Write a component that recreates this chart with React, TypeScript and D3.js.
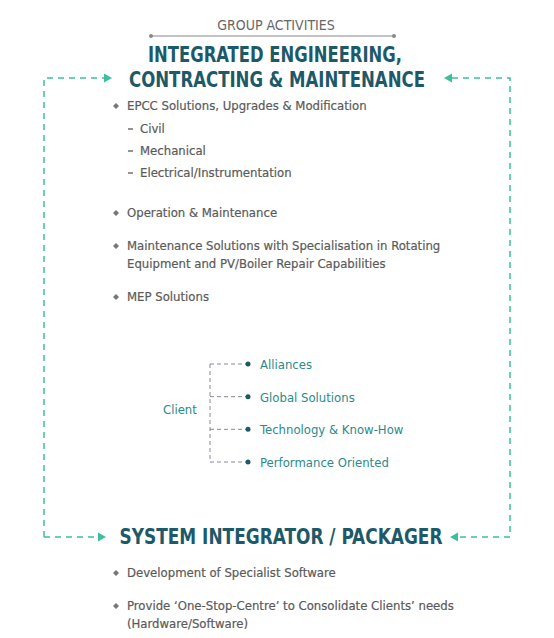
import React from 'react';
import * as d3 from 'd3';

const topTitle = ['INTEGRATED ENGINEERING,', 'CONTRACTING & MAINTENANCE'];
const bottomTitle = 'SYSTEM INTEGRATOR / PACKAGER';
const topBullets: { lines: string[]; y: number }[] = [
    { lines: ['EPCC Solutions, Upgrades & Modification'], y: 110 },
    { lines: ['Operation & Maintenance'], y: 217 },
    { lines: ['Maintenance Solutions with Specialisation in Rotating', 'Equipment and PV/Boiler Repair Capabilities'], y: 250 },
    { lines: ['MEP Solutions'], y: 301 },
];
const subItems = ['Civil', 'Mechanical', 'Electrical/Instrumentation'];
const clientBranches = ['Alliances', 'Global Solutions', 'Technology & Know-How', 'Performance Oriented'];
const bottomBullets: { lines: string[]; y: number }[] = [
    { lines: ['Development of Specialist Software'], y: 577 },
    { lines: ['Provide \u2018One-Stop-Centre\u2019 to Consolidate Clients\u2019 needs', '(Hardware/Software)'], y: 610 },
];

const FONT = '"Liberation Sans Narrow", "DejaVu Sans Condensed", "Roboto", sans-serif';
const GRAY = '#5a5a5a';
const DARK = '#1d5968';
const TEAL = '#2b8a8c';
const GREEN = '#3cbf9f';

const App: React.FC = () => {
    const subY = d3.scalePoint<string>().domain(subItems).range([133, 177]);
    const branchY = d3.scalePoint<string>().domain(clientBranches).range([364, 462]);

    const bullet = (b: { lines: string[]; y: number }, i: number) => (
        <g key={i}>
            <path d={`M116,${b.y - 7} l3,3 l-3,3 l-3,-3 z`} fill="#777" />
            {b.lines.map((l, j) => (
                <text key={j} x={127} y={b.y + j * 18} fontSize={13} fill={GRAY} stroke={GRAY} strokeWidth={0.2}>{l}</text>
            ))}
        </g>
    );

    const arrow = (x: number, y: number, dir: number) => (
        <path d={`M${x},${y} l${-8 * dir},-4.5 l0,9 z`} fill={GREEN} />
    );

    return (
        <svg width={554} height={638} style={{ position: 'absolute', left: 0, top: 0, background: '#fff' }} fontFamily={FONT}>
            <text x={276} y={30} textAnchor="middle" fontSize={14} fill="#666">GROUP ACTIVITIES</text>
            <line x1={151} x2={394} y1={36} y2={36} stroke="#888" strokeWidth={1} />
            <circle cx={151} cy={36} r={2} fill="#888" />
            <circle cx={394} cy={36} r={2} fill="#888" />
            <text x={275} y={62} textAnchor="middle" fontSize={22} fontWeight="bold" fill={DARK} textLength={254} lengthAdjust="spacingAndGlyphs">{topTitle[0]}</text>
            <text x={277} y={87} textAnchor="middle" fontSize={22} fontWeight="bold" fill={DARK} textLength={296} lengthAdjust="spacingAndGlyphs">{topTitle[1]}</text>

            {/* dashed loop */}
            <g stroke={GREEN} strokeWidth={1.5} strokeDasharray="6,5" fill="none">
                <path d="M44,537 L44,78 L104,78" />
                <path d="M452,78 L510,78 L510,537 L458,537" />
                <path d="M44,537 L98,537" />
            </g>
            {arrow(112, 78, 1)}
            {arrow(444, 78, -1)}
            {arrow(106, 537, 1)}
            {arrow(450, 537, -1)}

            {topBullets.map(bullet)}
            {subItems.map(s => (
                <g key={s}>
                    <line x1={128} x2={133} y1={subY(s)! - 4} y2={subY(s)! - 4} stroke={GRAY} strokeWidth={1.3} />
                    <text x={140} y={subY(s)} fontSize={13} fill={GRAY} stroke={GRAY} strokeWidth={0.2}>{s}</text>
                </g>
            ))}

            <text x={163} y={414} fontSize={13} fill={TEAL}>Client</text>
            <line x1={210} x2={210} y1={364} y2={462} stroke="#557" strokeOpacity={0.7} strokeWidth={1} strokeDasharray="4,3" />
            {clientBranches.map(c => (
                <g key={c}>
                    <line x1={210} x2={246} y1={branchY(c)} y2={branchY(c)} stroke="#557" strokeOpacity={0.7} strokeWidth={1} strokeDasharray="4,3" />
                    <circle cx={248} cy={branchY(c)} r={2.5} fill={DARK} />
                    <text x={260} y={branchY(c)! + 5} fontSize={13} fill={TEAL}>{c}</text>
                </g>
            ))}

            <text x={281} y={544} textAnchor="middle" fontSize={22} fontWeight="bold" fill={DARK} textLength={323} lengthAdjust="spacingAndGlyphs">{bottomTitle}</text>
            {bottomBullets.map(bullet)}
        </svg>
    );
};

export default App;
